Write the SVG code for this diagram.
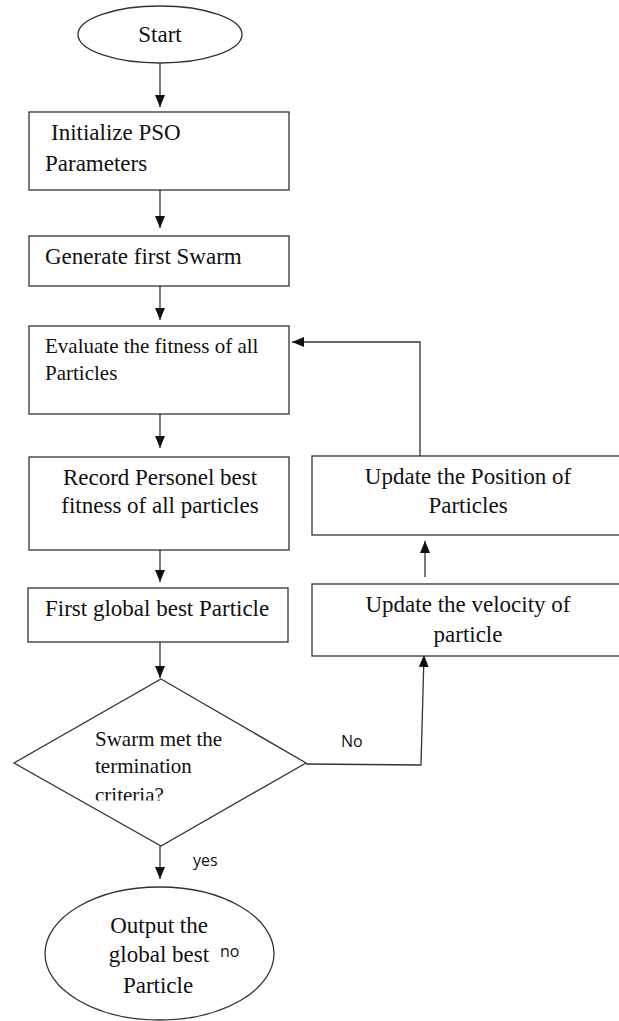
<svg xmlns="http://www.w3.org/2000/svg" width="619" height="1021" viewBox="0 0 619 1021">
<defs>
<style>
.shape{fill:#fff;stroke:#333;stroke-width:1.3}
.line{fill:none;stroke:#333;stroke-width:1.3}
.t{font-family:"Liberation Serif","Times New Roman",serif;font-size:23px;fill:#111}
.ts{font-family:"Liberation Serif","Times New Roman",serif;font-size:21px;fill:#111}
.lbl{font-family:"Open Sans","Liberation Sans",sans-serif;font-size:16px;fill:#111}
</style>
<marker id="ah" viewBox="0 0 12 10" refX="12" refY="5" markerWidth="12" markerHeight="10" markerUnits="userSpaceOnUse" orient="auto">
<path d="M0,0 L12,5 L0,10 z" fill="#111"/>
</marker>
<clipPath id="dclip"><rect x="0" y="680" width="619" height="120.5"/></clipPath>
</defs>
<rect width="619" height="1021" fill="#fff"/>

<g id="connectors">
<line class="line" x1="160" y1="63" x2="160" y2="107" marker-end="url(#ah)"/>
<line class="line" x1="160" y1="190" x2="160" y2="228" marker-end="url(#ah)"/>
<line class="line" x1="160" y1="286" x2="160" y2="320" marker-end="url(#ah)"/>
<line class="line" x1="160" y1="414" x2="160" y2="448" marker-end="url(#ah)"/>
<line class="line" x1="160" y1="550" x2="160" y2="582" marker-end="url(#ah)"/>
<line class="line" x1="160" y1="642" x2="160" y2="678" marker-end="url(#ah)"/>
<line class="line" x1="160" y1="846" x2="160" y2="879" marker-end="url(#ah)"/>
<polyline class="line" points="306,764 421,765 424,655" marker-end="url(#ah)"/>
<line class="line" x1="425" y1="577" x2="425" y2="541" marker-end="url(#ah)"/>
<polyline class="line" points="420,456 420,342 292,342" marker-end="url(#ah)"/>
<text class="lbl" x="341" y="747">No</text>
<text class="lbl" x="193" y="866">yes</text>
</g>

<g id="start">
<ellipse class="shape" cx="160" cy="34.5" rx="82" ry="28.5"/>
<text class="t" x="160" y="42" text-anchor="middle">Start</text>
</g>

<g id="init">
<rect class="shape" x="29" y="112" width="260" height="78"/>
<text class="t" x="51" y="140">Initialize PSO</text>
<text class="t" x="45" y="171">Parameters</text>
</g>

<g id="generate">
<rect class="shape" x="29" y="236" width="260" height="50"/>
<text class="t" x="45" y="264">Generate first Swarm</text>
</g>

<g id="evaluate">
<rect class="shape" x="29" y="326" width="260" height="88"/>
<text class="ts" x="45" y="353">Evaluate the fitness of all</text>
<text class="ts" x="45" y="380">Particles</text>
</g>

<g id="record">
<rect class="shape" x="29" y="457" width="260" height="93"/>
<text class="t" x="160" y="485" text-anchor="middle">Record Personel best</text>
<text class="t" x="160" y="513" text-anchor="middle">fitness of all particles</text>
</g>

<g id="firstglobal">
<rect class="shape" x="28" y="588" width="260" height="54"/>
<text class="t" x="45" y="616">First global best Particle</text>
</g>

<g id="decision">
<polygon class="shape" points="161,679 306,763 161,846 14,763"/>
<g clip-path="url(#dclip)">
<text class="ts" x="95" y="746">Swarm met the</text>
<text class="ts" x="95" y="773">termination</text>
<text class="ts" x="95" y="802">criteria?</text>
</g>
</g>

<g id="output">
<ellipse class="shape" cx="159.5" cy="953.5" rx="114.5" ry="66.5"/>
<text class="t" x="159" y="933" text-anchor="middle">Output the</text>
<text class="t" x="159" y="962" text-anchor="middle">global best</text>
<text class="t" x="158" y="993" text-anchor="middle">Particle</text>
<text class="lbl" x="220" y="957">no</text>
</g>

<g id="position">
<rect class="shape" x="312" y="456" width="315" height="79"/>
<text class="t" x="468" y="484" text-anchor="middle">Update the Position of</text>
<text class="t" x="468" y="513" text-anchor="middle">Particles</text>
</g>

<g id="velocity">
<rect class="shape" x="312" y="584" width="315" height="72"/>
<text class="t" x="468" y="612" text-anchor="middle">Update the velocity of</text>
<text class="t" x="468" y="642" text-anchor="middle">particle</text>
</g>
</svg>
